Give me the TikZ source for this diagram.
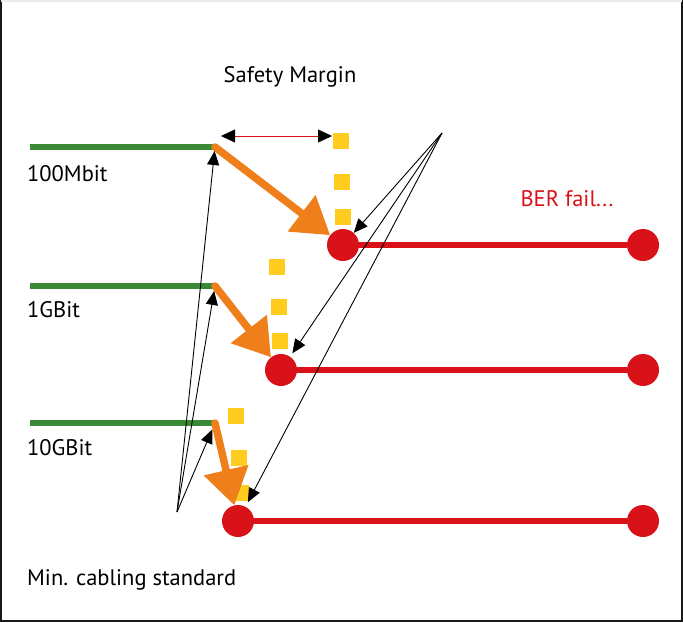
\documentclass[tikz,border=0pt]{standalone}
\usepackage{fontspec}
\setmainfont{PT Sans}
\usetikzlibrary{arrows.meta}
\definecolor{cablegreen}{HTML}{3A8A35}
\definecolor{failred}{HTML}{D81218}
\definecolor{steporange}{HTML}{EE7F1A}
\definecolor{marginyellow}{HTML}{FFCC1F}
\begin{document}
\begin{tikzpicture}[
  x=1pt, y=-1pt,
  cable/.style={cablegreen, line width=6pt},
  fail/.style={failred, line width=6pt},
  dot/.style={circle, fill=failred, inner sep=0pt, minimum size=32pt},
  gap/.style={rectangle, fill=marginyellow, inner sep=0pt, minimum size=16pt},
  drop/.style={steporange, line width=7.5pt, line cap=round, -{Triangle[length=36pt,width=44pt]}},
  pointer/.style={black, line width=0.9pt, -{Triangle[length=14pt,width=12pt]}},
  label/.style={anchor=west, inner sep=0pt, font=\fontsize{22.5}{26}\selectfont},
  font=\fontsize{22.5}{26}\selectfont
]
\useasboundingbox (0,0) rectangle (683,622);
\draw[black!90, line width=2pt] (1,0) -- (1,621) -- (682,621) -- (682,0);
\draw[black!8, line width=1.5pt] (1,1) -- (682,1);

% cabling standards
\coordinate (s1) at (30,147);
\coordinate (g1) at (215,147);
\coordinate (s2) at (30,286);
\coordinate (g2) at (215,286);
\coordinate (s3) at (30,423);
\coordinate (g3) at (215,423);
\draw[cable] (s1) -- (g1);
\draw[cable] (s2) -- (g2);
\draw[cable] (s3) -- (g3);
\node[label] (l1) at (27,174) {100Mbit};
\node[label] (l2) at (27,310) {1GBit};
\node[label] (l3) at (27,448) {10GBit};

% failure lines
\node[dot] (f1) at (343,245) {};
\node[dot] (e1) at (643,245) {};
\node[dot] (f2) at (281,370) {};
\node[dot] (e2) at (643,370) {};
\node[dot] (f3) at (238,521) {};
\node[dot] (e3) at (643,521) {};
\draw[fail] (f1) -- (e1);
\draw[fail] (f2) -- (e2);
\draw[fail] (f3) -- (e3);

% safety margins
\node[gap] (y11) at (341,141) {};
\node[gap] (y12) at (342,182) {};
\node[gap] (y13) at (343,217) {};
\node[gap] (y21) at (277,267) {};
\node[gap] (y22) at (279,307) {};
\node[gap] (y23) at (280,341) {};
\node[gap] (y31) at (236,416) {};
\node[gap] (y32) at (239,458) {};
\node[gap] (y33) at (241,493) {};

\draw[drop] (g1) -- (f1);
\draw[drop] (g2) -- (f2);
\draw[drop] (g3) -- (f3);

% annotations
\node (margin) at (290,77) {Safety Margin};
\coordinate (m1) at (221,136);
\coordinate (m2) at (332,136);
\draw[failred, thin, {Triangle[black,length=14pt,width=13pt]}-{Triangle[black,length=14pt,width=13pt]}] (m1) -- (m2);

\node[failred] (ber) at (567,199) {BER fail...};
\coordinate (bp) at (442,133);
\draw[pointer] (bp) -- (f1);
\draw[pointer, shorten >=4pt] (bp) -- (f2);
\draw[pointer, shorten >=5pt] (bp) -- (f3);

\node[label] (min) at (27,580) {Min. cabling standard};
\coordinate (mp) at (177,512);
\draw[pointer, shorten >=4pt] (mp) -- (g1);
\draw[pointer, shorten >=5pt] (mp) -- (g2);
\draw[pointer, shorten >=7pt] (mp) -- (g3);
\end{tikzpicture}
\end{document}
